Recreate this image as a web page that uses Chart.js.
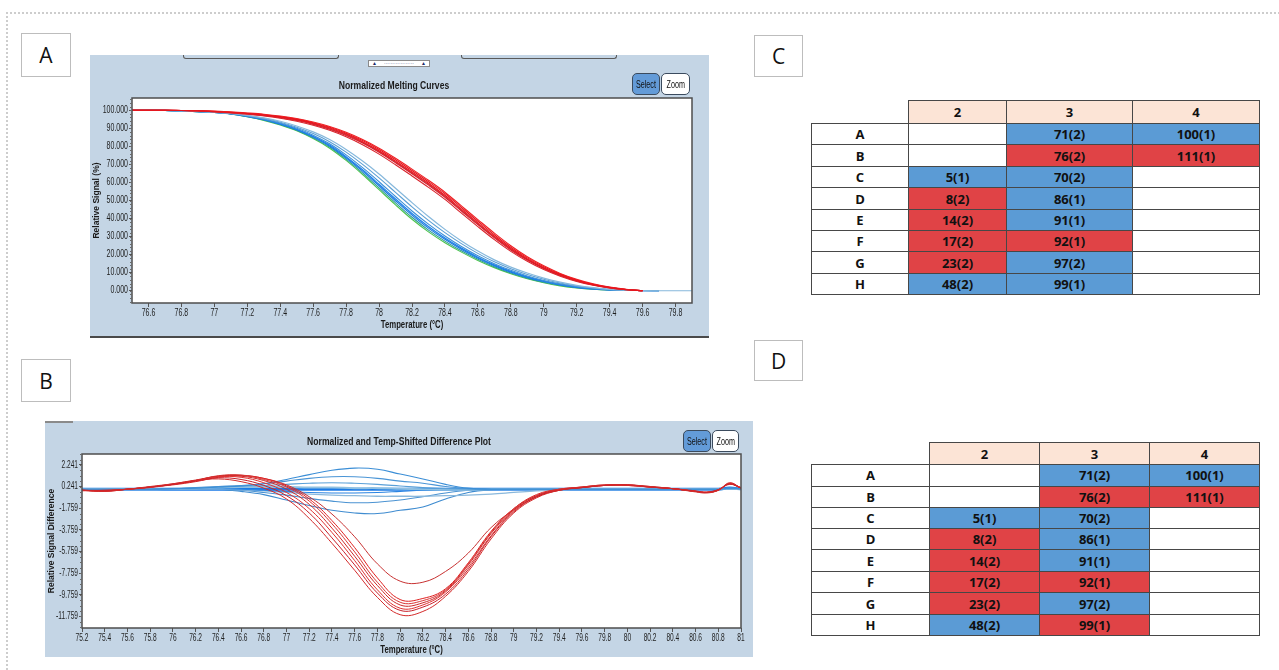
<!DOCTYPE html>
<html>
<head>
<meta charset="utf-8">
<script src="https://cdn.jsdelivr.net/npm/chart.js@4.4.1/dist/chart.umd.min.js"></script>
<style>
  html, body { margin: 0; padding: 0; background: #fff; }
  body { width: 1279px; height: 670px; position: relative; overflow: hidden; font-family: "Liberation Sans", Arial, sans-serif; }
  .abs { position: absolute; }
  .frame { left: 6px; top: 12px; width: 1320px; height: 720px; border-top: 2px dotted #cdcdcd; border-left: 2px dotted #cdcdcd; }
  .tag { box-sizing: border-box; border: 1.5px solid #bdbdbd; background: #fff; font-family: "Open Sans", sans-serif; font-size: 21px; color: #111;
         display: flex; align-items: center; justify-content: center; }
  .panel { background: #c4d5e5; }
  .ptitle { font: bold 10px "Liberation Sans", sans-serif; color: #1a1a1a; white-space: nowrap; transform: translate(-50%, -50%) scaleX(0.86); }
  .btn { box-sizing: border-box; border: 1.3px solid #3b4b5e; border-radius: 5px; font: 10px "Liberation Sans", sans-serif;
         color: #111; display: flex; align-items: center; justify-content: center; overflow: hidden; }
  .btn span { display: inline-block; transform: scaleX(0.72); white-space: nowrap; }
  .btn.on { background: #639bd8; }
  .btn.off { background: #fff; }
  .tabedge { box-sizing: border-box; border: 1.5px solid #5a5a5a; border-top: none; border-radius: 0 0 3px 3px; }
  .slider { box-sizing: border-box; border: 1px solid #8a8a8a; background: #fff; font-size: 5px; line-height: 5px; color: #1e2a6a; display: flex; justify-content: space-between; align-items: center; padding: 0 3px; }
  .cell { position: absolute; box-sizing: border-box; border: 1px solid #474747; display: flex; align-items: center; justify-content: center;
          font: bold 13px "Open Sans", "Liberation Sans", sans-serif; color: #111; }
  canvas { position: absolute; left: 0; top: 0; }
</style>
</head>
<body>

<div class="abs frame"></div>

<!-- panel letters -->
<div class="abs tag" style="left:21px;top:33px;width:50px;height:44px;">A</div>
<div class="abs tag" style="left:21px;top:359px;width:50px;height:43px;">B</div>
<div class="abs tag" style="left:754px;top:35px;width:49px;height:42px;">C</div>
<div class="abs tag" style="left:754px;top:340px;width:49px;height:41px;">D</div>

<!-- panel A -->
<div class="abs panel" id="panelA" style="left:90px;top:55px;width:619px;height:283px;border-bottom:2px solid #4a4a4a;box-sizing:border-box;">
  <canvas id="chartA" width="619" height="281"></canvas>
  <div class="abs tabedge" style="left:93px;top:0;width:156px;height:4px;"></div>
  <div class="abs tabedge" style="left:371px;top:0;width:156px;height:4px;"></div>
  <div class="abs slider" style="left:278px;top:5px;width:62px;height:7px;"><span>▲</span><span>··················</span><span>▲</span></div>
  <div class="abs ptitle" style="left:304px;top:30px;">Normalized Melting Curves</div>
  <div class="abs btn on" style="left:542px;top:18px;width:28px;height:22px;"><span>Select</span></div>
  <div class="abs btn off" style="left:571px;top:18px;width:29px;height:22px;"><span>Zoom</span></div>
</div>

<!-- panel B -->
<div class="abs panel" id="panelB" style="left:45px;top:421px;width:708px;height:236px;">
  <canvas id="chartB" width="708" height="236"></canvas>
  <div class="abs" style="left:0;top:0;width:28px;height:2px;background:#8a8a8a;"></div>
  <div class="abs ptitle" style="left:354px;top:20px;">Normalized and Temp-Shifted Difference Plot</div>
  <div class="abs btn on" style="left:638px;top:9px;width:28px;height:22px;"><span>Select</span></div>
  <div class="abs btn off" style="left:667px;top:9px;width:27px;height:22px;"><span>Zoom</span></div>
</div>

<div id="tableC"></div>
<div id="tableD"></div>

<script>
// ---------- Normalized melting curves (panel A) ----------
const TEMP_A = [76.5,76.6,76.7,76.8,76.9,77.0,77.1,77.2,77.3,77.4,77.5,77.6,77.7,77.8,77.9,78.0,78.1,78.2,78.3,78.4,
                78.5,78.6,78.7,78.8,78.9,79.0,79.1,79.2,79.3,79.4,79.5,79.6,79.7,79.8,79.9];

// red group
const MELT_RED_1 = [100,100,100,99.9,99.7,99.3,98.8,98.2,97.4,96.3,94.8,92.8,90.2,86.8,82.6,77.6,71.8,65.8,59.6,52.9,45.2,37.6,30.2,23.4,17.6,12.8,8.8,5.7,3.4,1.8,0.7,0];
const MELT_RED_2 = [100,100,100,99.9,99.6,99.1,98.5,97.8,96.9,95.6,93.9,91.7,88.9,85.3,80.9,75.7,69.8,63.6,57.3,50.6,43.0,35.5,28.3,21.8,16.3,11.7,8.0,5.1,3.0,1.5,0.5,0];
const MELT_RED_3 = [100,100,100,99.9,99.8,99.5,99.1,98.5,97.8,96.8,95.4,93.5,91.0,87.8,83.8,79.0,73.4,67.4,61.2,54.6,47.0,39.4,31.9,24.9,18.8,13.8,9.6,6.3,3.8,2.0,0.8,0];
const MELT_RED_4 = [100,100,100,99.9,99.7,99.2,98.7,98.0,97.1,95.9,94.3,92.2,89.5,86.0,81.8,76.7,70.9,64.8,58.5,51.8,44.2,36.6,29.3,22.6,17.0,12.3,8.4,5.4,3.2,1.6,0.6,0];
const MELT_RED_5 = [100,100,100,99.9,99.7,99.4,98.9,98.3,97.5,96.5,95.1,93.1,90.6,87.3,83.2,78.3,72.6,66.6,60.4,53.8,46.1,38.5,31.0,24.1,18.2,13.3,9.2,6.0,3.6,1.9,0.7,0];
const MELT_RED_6 = [100,100,100,99.9,99.7,99.3,98.8,98.1,97.2,96.1,94.6,92.5,89.8,86.4,82.2,77.2,71.3,65.2,59.0,52.3,44.6,37.0,29.7,23.0,17.3,12.5,8.6,5.5,3.3,1.7,0.6,0];

// blue / green group
const MELT_GREEN  = [100,100,99.9,99.6,99.2,98.8,98.0,96.4,94.4,91.8,88.6,84.3,79.0,72.2,64.4,56.0,47.6,39.6,32.6,26.6,21.4,16.8,12.8,9.4,6.6,4.4,2.7,1.5,0.8,0.4,0.2,0.1];
const MELT_TEAL   = [100,100,99.9,99.6,99.2,98.8,98.0,96.5,94.6,92.1,88.9,84.7,79.6,72.9,65.3,57.0,48.7,40.7,33.6,27.5,22.1,17.4,13.3,9.8,7.0,4.7,3.0,1.7,0.9,0.4,0.2,0.1];
const MELT_BLUE_1 = [100,100,99.9,99.6,99.2,98.8,98.0,96.6,94.8,92.3,89.3,85.2,80.2,73.7,66.3,58.2,49.9,41.9,34.7,28.5,23.0,18.1,13.9,10.3,7.4,5.1,3.2,1.9,1.0,0.5,0.2,0.1,0];
const MELT_BLUE_2 = [100,100,99.9,99.6,99.3,98.8,98.1,96.7,94.9,92.5,89.5,85.6,80.7,74.3,67.0,59.0,50.8,42.8,35.6,29.2,23.6,18.6,14.3,10.7,7.7,5.3,3.4,2.0,1.1,0.5,0.2,0.1,0];
const MELT_BLUE_3 = [100,100,99.9,99.7,99.3,98.9,98.1,96.8,95.1,92.9,90.0,86.2,81.4,75.3,68.2,60.4,52.2,44.2,36.9,30.3,24.5,19.4,15.0,11.3,8.2,5.7,3.8,2.3,1.3,0.6,0.2,0.1,0];
const MELT_BLUE_4 = [100,100,99.9,99.7,99.4,98.9,98.2,97.0,95.5,93.4,90.6,87.1,82.6,76.8,70.0,62.5,54.5,46.5,39.0,32.2,26.1,20.7,16.0,12.2,9.0,6.4,4.3,2.6,1.5,0.7,0.3,0.1,0];
const MELT_BLUE_5 = [100,100,99.9,99.7,99.4,98.9,98.2,97.2,95.8,93.9,91.3,88.0,83.8,78.3,71.9,64.7,56.8,48.8,41.1,34.0,27.6,22.0,17.1,13.1,9.8,7.0,4.8,3.0,1.7,0.8,0.3,0.1,0,0,0];

const XTICKS_A = [76.6,76.8,77.0,77.2,77.4,77.6,77.8,78.0,78.2,78.4,78.6,78.8,79.0,79.2,79.4,79.6,79.8];
const YTICKS_A = [0,10,20,30,40,50,60,70,80,90,100];

// ---------- Difference plot (panel B) ----------
const TEMP_B = [75.2,75.4,75.6,75.8,76.0,76.2,76.4,76.6,76.8,77.0,77.2,77.4,77.6,77.8,78.0,78.2,
                78.4,78.6,78.8,79.0,79.2,79.4,79.6,79.8,80.0,80.2,80.4,80.6,80.7,80.8,80.9,81.0];

const DIFF_RED_1 = [-0.1,-0.2,0,0.25,0.5,0.8,0.95,0.7,0.1,-0.9,-2.7,-5.0,-7.5,-10.0,-11.6,-11.3,-9.9,-7.6,-4.6,-2.2,-0.8,-0.1,0.2,0.4,0.4,0.25,0.05,-0.25,-0.35,-0.1,0.6,0.1];
const DIFF_RED_2 = [-0.1,-0.15,0,0.2,0.45,0.75,1.05,0.9,0.35,-0.6,-2.2,-4.5,-7.0,-9.6,-11.2,-10.9,-9.7,-7.4,-4.4,-2.1,-0.7,-0.1,0.15,0.35,0.4,0.2,0.05,-0.2,-0.3,-0.05,0.5,0.1];
const DIFF_RED_3 = [-0.1,-0.15,0,0.2,0.45,0.8,1.15,1.1,0.6,-0.3,-1.8,-4.0,-6.6,-9.3,-11.0,-10.7,-9.5,-7.2,-4.3,-2.0,-0.7,-0.05,0.2,0.35,0.35,0.2,0.05,-0.2,-0.3,-0.1,0.5,0.15];
const DIFF_RED_4 = [-0.1,-0.1,0,0.2,0.5,0.85,1.2,1.2,0.8,0,-1.4,-3.6,-6.2,-8.9,-10.7,-10.5,-9.4,-7.0,-4.1,-1.9,-0.6,-0.05,0.15,0.35,0.35,0.2,0.05,-0.2,-0.25,-0.05,0.45,0.1];
const DIFF_RED_5 = [-0.15,-0.1,0,0.15,0.45,0.8,1.25,1.3,0.9,0.2,-1.1,-3.2,-5.8,-8.6,-10.45,-10.3,-9.3,-6.9,-4.0,-1.8,-0.6,0,0.2,0.4,0.35,0.2,0.05,-0.2,-0.3,-0.1,0.55,0.1];
const DIFF_RED_6 = [-0.1,-0.2,0,0.2,0.4,0.7,1.1,1.25,1.0,0.3,-0.9,-2.9,-5.4,-8.2,-10.2,-10.1,-9.2,-6.8,-3.9,-1.8,-0.5,0,0.15,0.35,0.4,0.2,0.05,-0.15,-0.3,-0.05,0.5,0.15];
const DIFF_RED_7 = [-0.1,-0.15,0,0.2,0.45,0.8,1.2,1.3,1.0,0.4,-0.7,-2.3,-4.4,-6.9,-8.5,-8.6,-7.6,-5.9,-3.55,-1.9,-0.7,-0.1,0.15,0.35,0.4,0.25,0.05,-0.2,-0.3,-0.1,0.5,0.1];

const DIFF_BLUE_1 = [0,0,0,0,0.05,0.1,0.2,0.3,0.5,0.9,1.35,1.75,1.95,1.85,1.4,0.95,0.45,0.1,0,0,0,0,0,0,0,0,0,0,0,0,0.1,0.05];
const DIFF_BLUE_2 = [0,0,0,0,0.05,0.15,0.25,0.35,0.5,0.75,1.0,1.15,1.15,1.0,0.75,0.55,0.25,0.05,0,0,0,0,0,0,0,0,0,0,0,0,0.1,0.05];
const DIFF_BLUE_3 = [0,0,0,0,0.05,0.1,0.2,0.3,0.35,0.45,0.55,0.6,0.55,0.45,0.3,0.15,0.05,0,0,0,0,0,0,0,0,0,0,0,0,0,0.05,0];
const DIFF_BLUE_4 = [0,0,0,0,0.05,0.1,0.15,0.2,0.2,0.2,0.15,0.15,0.1,0.1,0.05,0,-0.05,-0.05,0,0,0,0,0,0,0,0,0,0,0,0,0.05,0];
const DIFF_BLUE_5 = [0,0,0,0,0,0.05,0.05,0,-0.1,-0.2,-0.3,-0.35,-0.35,-0.3,-0.2,-0.1,-0.05,0,0,0,0,0,0,0,0,0,0,0,0,0,0,0];
const DIFF_BLUE_6 = [0,0,0,0,0,0,0,-0.05,-0.15,-0.3,-0.45,-0.55,-0.6,-0.65,-0.65,-0.65,-0.6,-0.55,-0.45,-0.3,-0.15,-0.05,0,0,0,0,0,0,0,0,0,0];
const DIFF_BLUE_7 = [0,0,0,0,0,0,0,-0.1,-0.3,-0.55,-0.85,-1.1,-1.25,-1.2,-1.0,-0.7,-0.35,-0.1,0,0,0,0,0,0,0,0,0,0,0,0,0,0];
const DIFF_BLUE_8 = [0,0,0,0,0,0,0,-0.2,-0.5,-1.0,-1.5,-1.95,-2.2,-2.25,-1.95,-1.65,-0.9,-0.3,-0.05,0,0,0,0,0,0,0,0,0,0,0,0,0];
const DIFF_FLAT_1 = [0.05,0.05,0.05,0.05,0.05,0.05,0.05,0.05,0.05,0.05,0.05,0.05,0.05,0.05,0.05,0.05,0.05,0.05,0.05,0.05,0.05,0.05,0.05,0.05,0.05,0.05,0.05,0.05,0.05,0.05,0.15,0.05];
const DIFF_FLAT_2 = [-0.05,-0.05,-0.05,-0.05,-0.05,-0.05,-0.05,-0.05,-0.05,-0.05,-0.05,-0.05,-0.05,-0.05,-0.05,-0.05,-0.05,-0.05,-0.05,-0.05,-0.05,-0.05,-0.05,-0.05,-0.05,-0.05,-0.05,-0.05,-0.05,-0.05,0.1,0];

const XTICKS_B = [75.2,75.4,75.6,75.8,76.0,76.2,76.4,76.6,76.8,77.0,77.2,77.4,77.6,77.8,78.0,78.2,78.4,78.6,78.8,79.0,
                  79.2,79.4,79.6,79.8,80.0,80.2,80.4,80.6,80.8,81.0];
const YTICKS_B = [2.241,0.241,-1.759,-3.759,-5.759,-7.759,-9.759,-11.759];

// ---------- Plate tables (panels C and D) ----------
const PLATE_ROWS = ['A','B','C','D','E','F','G','H'];
const PLATE_COLS = ['2','3','4'];
const PLATE_LABELS = [
  ['', '71(2)', '100(1)'],
  ['', '76(2)', '111(1)'],
  ['5(1)', '70(2)', ''],
  ['8(2)', '86(1)', ''],
  ['14(2)', '91(1)', ''],
  ['17(2)', '92(1)', ''],
  ['23(2)', '97(2)', ''],
  ['48(2)', '99(1)', '']
];
// b = blue group, r = red group
const GROUPS_C = [
  ['', 'b', 'b'], ['', 'r', 'r'], ['b', 'b', ''], ['r', 'b', ''],
  ['r', 'b', ''], ['r', 'r', ''], ['r', 'b', ''], ['b', 'b', '']
];
const GROUPS_D = [
  ['', 'b', 'b'], ['', 'r', 'r'], ['b', 'b', ''], ['r', 'b', ''],
  ['r', 'b', ''], ['r', 'r', ''], ['r', 'b', ''], ['b', 'r', '']
];

// ---------- drawing ----------
const SANS = '"Liberation Sans", Arial, sans-serif';

const toPoints = (xs, ys) => ys.map((y, i) => (y == null ? null : { x: xs[i], y })).filter(Boolean);
const fmtTemp = v => String(+Number(v).toFixed(1));

// monotone keeps the melting plateaus flat; the difference traces use a plain bezier so their valleys stay round
function line(xs, ys, color, width, smooth) {
  const ds = { data: toPoints(xs, ys), borderColor: color, borderWidth: width, pointRadius: 0, fill: false };
  if (smooth) { ds.tension = 0.4; } else { ds.cubicInterpolationMode = 'monotone'; }
  return ds;
}

// narrow text: the instrument software uses a condensed face
function narrowText(ctx, text, x, y, sx, align, font) {
  ctx.save();
  ctx.font = font;
  ctx.translate(x, y);
  ctx.scale(sx, 1);
  ctx.textAlign = align;
  ctx.textBaseline = 'middle';
  ctx.fillText(text, 0, 0);
  ctx.restore();
}

// white plot area, frame, minor ticks, tick labels and axis titles
const plotDecor = {
  id: 'plotDecor',
  beforeDraw(chart) {
    const { ctx, chartArea: a } = chart;
    ctx.save();
    ctx.fillStyle = '#ffffff';
    ctx.fillRect(a.left, a.top, a.right - a.left, a.bottom - a.top);
    ctx.restore();
  },
  afterDraw(chart, args, o) {
    const { ctx, chartArea: a, scales: { x, y } } = chart;
    ctx.save();
    ctx.strokeStyle = '#4d4d4d';
    ctx.lineWidth = 1.5;
    ctx.strokeRect(a.left, a.top, a.right - a.left, a.bottom - a.top);
    ctx.lineWidth = 1;
    ctx.strokeStyle = '#6a6a6a';
    const start = o.minorBase + Math.ceil((y.min - o.minorBase) / o.minorStep) * o.minorStep;
    for (let v = start; v <= y.max; v += o.minorStep) {
      const py = Math.round(y.getPixelForValue(v)) + 0.5;
      ctx.beginPath();
      ctx.moveTo(a.left - 2, py);
      ctx.lineTo(a.left, py);
      ctx.stroke();
    }
    ctx.fillStyle = '#1e1e1e';
    const tickFont = `${o.tickSize}px ${SANS}`;
    x.ticks.forEach(t => narrowText(ctx, fmtTemp(t.value), x.getPixelForValue(t.value), a.bottom + o.xLabelGap, o.squeeze, 'center', tickFont));
    y.ticks.forEach(t => narrowText(ctx, o.yFormat(t.value), a.left - 4, y.getPixelForValue(t.value), o.squeeze, 'right', tickFont));
    ctx.fillStyle = '#1a1a1a';
    narrowText(ctx, 'Temperature (°C)', (a.left + a.right) / 2, a.bottom + o.xTitleGap, 0.74, 'center', `bold 10.5px ${SANS}`);
    ctx.save();
    ctx.translate(o.yTitleX, (a.top + a.bottom) / 2);
    ctx.rotate(-Math.PI / 2);
    ctx.font = `bold 8.5px ${SANS}`;
    ctx.textAlign = 'center';
    ctx.textBaseline = 'middle';
    ctx.fillText(o.yTitle, 0, 0);
    ctx.restore();
    ctx.restore();
  }
};

function baseOptions(cfg) {
  return {
    responsive: false,
    animation: false,
    devicePixelRatio: 1,
    layout: { padding: { top: cfg.padTop, right: cfg.padRight, left: 0, bottom: 0 } },
    plugins: { legend: { display: false }, tooltip: { enabled: false }, plotDecor: cfg.decor },
    elements: { point: { radius: 0 } },
    scales: {
      x: {
        type: 'linear', min: cfg.xMin, max: cfg.xMax,
        afterFit: s => { s.height = cfg.xAxisHeight; },
        afterBuildTicks: s => { s.ticks = cfg.xTicks.map(v => ({ value: v })); },
        ticks: { display: false, autoSkip: false },
        grid: { drawOnChartArea: false, drawTicks: true, tickLength: 4, color: '#555' },
        border: { display: false },
        title: { display: false }
      },
      y: {
        type: 'linear', min: cfg.yMin, max: cfg.yMax,
        afterFit: s => { s.width = cfg.yAxisWidth; },
        afterBuildTicks: s => { s.ticks = cfg.yTicks.map(v => ({ value: v })); },
        ticks: { display: false, autoSkip: false },
        grid: { drawOnChartArea: false, drawTicks: true, tickLength: 3, color: '#555' },
        border: { display: false },
        title: { display: false }
      }
    }
  };
}

const fmt3 = v => Number(v).toFixed(3);

// panel A
new Chart(document.getElementById('chartA'), {
  type: 'line',
  data: {
    datasets: [
      line(TEMP_A, MELT_RED_1, '#e8141c', 1.1),
      line(TEMP_A, MELT_RED_2, '#d9232b', 1.1),
      line(TEMP_A, MELT_RED_3, '#ef1f22', 1.1),
      line(TEMP_A, MELT_RED_4, '#cf2430', 1.1),
      line(TEMP_A, MELT_RED_5, '#e3161e', 1.1),
      line(TEMP_A, MELT_RED_6, '#d8343a', 1.1),
      line(TEMP_A, MELT_BLUE_5, '#86b8dc', 1.2),
      line(TEMP_A, MELT_BLUE_4, '#5b9fd4', 1.1),
      line(TEMP_A, MELT_BLUE_3, '#3a8fd8', 1.1),
      line(TEMP_A, MELT_BLUE_2, '#1f82e8', 1.2),
      line(TEMP_A, MELT_BLUE_1, '#1a78e0', 1.2),
      line(TEMP_A, MELT_TEAL, '#2a9a9a', 1.1),
      line(TEMP_A, MELT_GREEN, '#4cc44c', 1.1)
    ]
  },
  options: baseOptions({
    padTop: 43, padRight: 17, xAxisHeight: 33, yAxisWidth: 42,
    xMin: 76.5, xMax: 79.9, yMin: -6.8, yMax: 106.8,
    xTicks: XTICKS_A, yTicks: YTICKS_A,
    decor: { minorBase: 0, minorStep: 2, tickSize: 10, squeeze: 0.7, yFormat: fmt3,
             xLabelGap: 10, xTitleGap: 22, yTitleX: 7, yTitle: 'Relative Signal (%)' }
  }),
  plugins: [plotDecor]
});

// panel B
new Chart(document.getElementById('chartB'), {
  type: 'line',
  data: {
    datasets: [
      line(TEMP_B, DIFF_RED_1, '#d42a2a', 1, true),
      line(TEMP_B, DIFF_RED_2, '#c8202a', 1, true),
      line(TEMP_B, DIFF_RED_3, '#e03030', 1, true),
      line(TEMP_B, DIFF_RED_4, '#cc2a2a', 1, true),
      line(TEMP_B, DIFF_RED_5, '#d93636', 1, true),
      line(TEMP_B, DIFF_RED_6, '#e02222', 1, true),
      line(TEMP_B, DIFF_RED_7, '#c83232', 1, true),
      line(TEMP_B, DIFF_BLUE_1, '#3b8ed6', 1.1, true),
      line(TEMP_B, DIFF_BLUE_2, '#4a95d6', 1.1, true),
      line(TEMP_B, DIFF_BLUE_3, '#5aa0d8', 1.1, true),
      line(TEMP_B, DIFF_BLUE_4, '#8ec0e2', 2, true),
      line(TEMP_B, DIFF_BLUE_5, '#2a84e2', 1.1, true),
      line(TEMP_B, DIFF_BLUE_6, '#8ab8dc', 1.3, true),
      line(TEMP_B, DIFF_BLUE_7, '#4b93d2', 1.1, true),
      line(TEMP_B, DIFF_BLUE_8, '#3f8cd0', 1.1, true),
      line(TEMP_B, DIFF_FLAT_1, '#1a7ae6', 2, true),
      line(TEMP_B, DIFF_FLAT_2, '#1a7ae6', 2, true)
    ]
  },
  options: baseOptions({
    padTop: 33, padRight: 12, xAxisHeight: 29, yAxisWidth: 37,
    xMin: 75.2, xMax: 81.0, yMin: -12.83, yMax: 3.255,
    xTicks: XTICKS_B, yTicks: YTICKS_B,
    decor: { minorBase: 0.241, minorStep: 0.5, tickSize: 10, squeeze: 0.66, yFormat: fmt3,
             xLabelGap: 10, xTitleGap: 22, yTitleX: 7, yTitle: 'Relative Signal Difference' }
  }),
  plugins: [plotDecor]
});

// plate tables
const FILL = { b: '#5b9bd5', r: '#e04346', '': '#ffffff' };
function drawPlate(host, xs, ys, groups) {
  const add = (x1, y1, x2, y2, text, bg) => {
    const d = document.createElement('div');
    d.className = 'cell';
    d.style.left = x1 + 'px';
    d.style.top = y1 + 'px';
    d.style.width = (x2 - x1 + 1) + 'px';
    d.style.height = (y2 - y1 + 1) + 'px';
    d.style.background = bg;
    d.textContent = text;
    host.appendChild(d);
  };
  PLATE_COLS.forEach((c, j) => add(xs[j + 1], ys[0], xs[j + 2], ys[1], c, '#fce4d6'));
  PLATE_ROWS.forEach((r, i) => {
    add(xs[0], ys[i + 1], xs[1], ys[i + 2], r, '#ffffff');
    PLATE_COLS.forEach((c, j) => add(xs[j + 1], ys[i + 1], xs[j + 2], ys[i + 2], PLATE_LABELS[i][j], FILL[groups[i][j]]));
  });
}
drawPlate(document.getElementById('tableC'),
  [811, 908, 1006, 1132, 1259],
  [100, 122.7, 144.3, 166, 187.3, 209, 230, 251.3, 273, 294], GROUPS_C);
drawPlate(document.getElementById('tableD'),
  [811, 929, 1039, 1149, 1259],
  [442.3, 464, 485.7, 506.7, 528.3, 549.3, 571, 592.3, 614, 635.3], GROUPS_D);
</script>
</body>
</html>
